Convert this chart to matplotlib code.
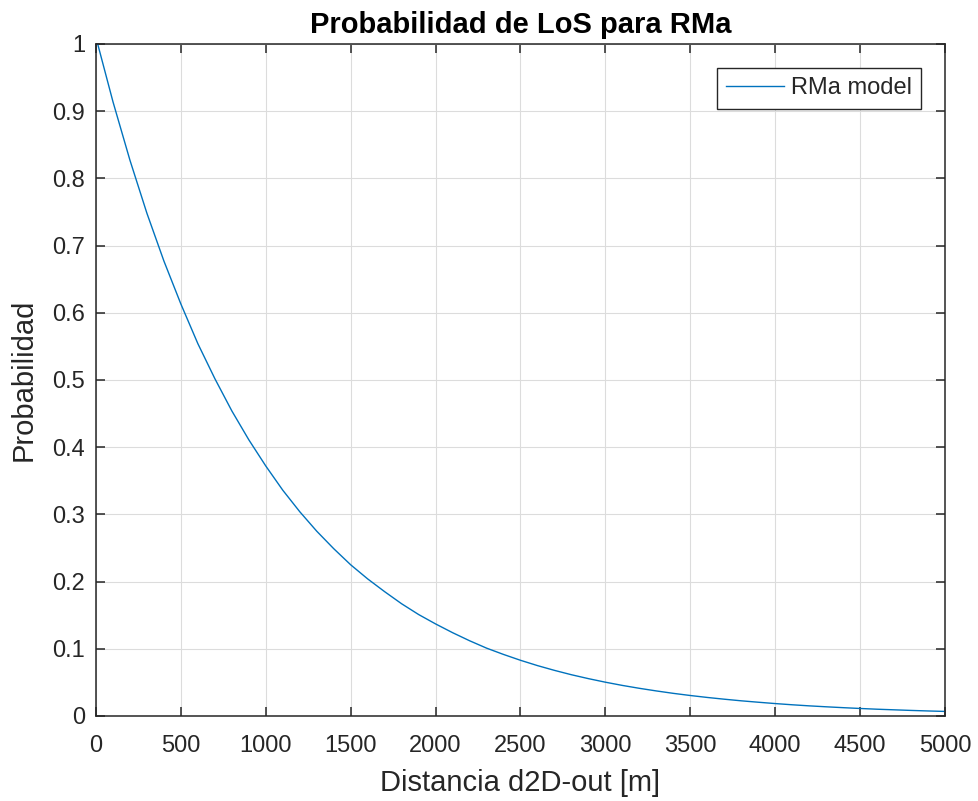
import matplotlib
matplotlib.use("Agg")
import matplotlib.pyplot as plt
from matplotlib.ticker import MultipleLocator

plt.rcParams['font.family'] = ['Liberation Sans', 'DejaVu Sans']

# Distance [m] and read-off LoS probability
distance = [0, 10, 100, 200, 300, 400, 500, 600, 700, 800, 900, 1000,
            1100, 1200, 1300, 1400, 1500, 1600, 1700, 1800, 1900, 2000,
            2100, 2200, 2300, 2400, 2500, 2600, 2700, 2800, 2900, 3000,
            3100, 3200, 3300, 3400, 3500, 3600, 3700, 3800, 3900, 4000,
            4100, 4200, 4300, 4400, 4500, 4600, 4700, 4800, 4900, 5000]
prob_los = [1.000, 1.000, 0.914, 0.827, 0.748, 0.677, 0.613, 0.554, 0.502, 0.454, 0.411, 0.372,
            0.336, 0.304, 0.275, 0.249, 0.225, 0.204, 0.185, 0.167, 0.151, 0.137,
            0.124, 0.112, 0.101, 0.0916, 0.0829, 0.0750, 0.0679, 0.0614, 0.0556, 0.0503,
            0.0455, 0.0412, 0.0373, 0.0337, 0.0305, 0.0276, 0.0250, 0.0226, 0.0205, 0.0185,
            0.0167, 0.0151, 0.0137, 0.0124, 0.0112, 0.0101, 0.0092, 0.0083, 0.0075, 0.0068]

fig = plt.figure(figsize=(9.79, 8.01), dpi=100)
ax = fig.add_axes([96/979, 1-716/801, (945-96)/979, (716-44)/801])

dark = '#262626'
ax.plot(distance, prob_los, color='#0072BD', lw=1.0, label='RMa model')

ax.set_xlim(0, 5000)
ax.set_ylim(0, 1)
ax.xaxis.set_major_locator(MultipleLocator(500))
ax.yaxis.set_major_locator(MultipleLocator(0.1))
ax.yaxis.set_major_formatter(plt.FuncFormatter(lambda v, p: ('%g' % round(v, 2))))

ax.grid(True, color='#dcdcdc', lw=0.8)
ax.set_axisbelow(True)
for s in ax.spines.values():
    s.set_color(dark)
    s.set_linewidth(1.1)
ax.tick_params(direction='in', length=6.5, width=1.1, colors=dark, labelsize=17,
               top=True, right=True, pad=8)
ax.tick_params(axis='x', pad=13.5)

ax.set_xlabel('Distancia d2D-out [m]', fontsize=21, color=dark, labelpad=9)
ax.set_ylabel('Probabilidad', fontsize=21, color=dark, labelpad=10)
ax.set_title('Probabilidad de LoS para RMa', fontsize=21, fontweight='bold', color='black', pad=8)

leg = ax.legend(loc='upper right', fontsize=17, frameon=True, fancybox=False,
                edgecolor=dark, framealpha=1, borderpad=0.4, handlelength=2.45,
                handletextpad=0.3, borderaxespad=1.0)
leg.get_frame().set_linewidth(1.0)
for t in leg.get_texts():
    t.set_color(dark)

fig.savefig('out.png', dpi=100)
